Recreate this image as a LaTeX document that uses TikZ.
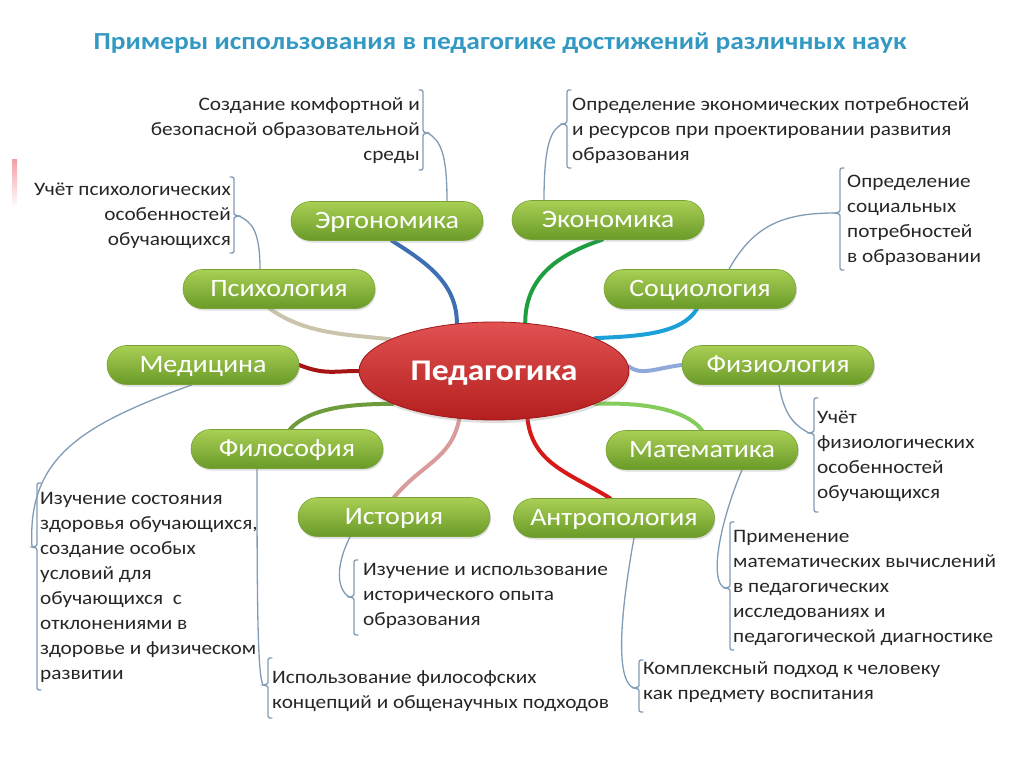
\documentclass[tikz,border=0pt]{standalone}
\usepackage{fontspec}
\setmainfont{Carlito}[FakeStretch=1.12]
\usetikzlibrary{shapes.misc,shapes.geometric,shadows,backgrounds}
\definecolor{pillTop}{HTML}{A9CF55}
\definecolor{pillBot}{HTML}{6A9A28}
\definecolor{pillEdge}{HTML}{76A236}
\definecolor{leadc}{HTML}{7F9BB5}
\definecolor{txt}{HTML}{262626}
\definecolor{titlec}{HTML}{3399C2}
\definecolor{redTop}{HTML}{E25252}
\definecolor{redBot}{HTML}{B41E1E}
\definecolor{redEdge}{HTML}{A01818}
\definecolor{cErgo}{HTML}{3E6FB2}
\definecolor{cEcon}{HTML}{1E9E40}
\definecolor{cSoc}{HTML}{1BA0D8}
\definecolor{cPsy}{HTML}{CBC4AC}
\definecolor{cMed}{HTML}{A51515}
\definecolor{cPhys}{HTML}{8FAADA}
\definecolor{cPhi}{HTML}{6E9B3C}
\definecolor{cMath}{HTML}{86CC5C}
\definecolor{cHist}{HTML}{D99C9C}
\definecolor{cAnt}{HTML}{D61A1A}
\definecolor{pinkbar}{HTML}{F4A0A8}
\tikzset{
  pill/.style={rounded rectangle, minimum width=192pt, minimum height=39pt, inner sep=0pt,
    top color=pillTop, bottom color=pillBot, draw=pillEdge, line width=0.6pt,
    text=white, font=\fontsize{25}{30}\selectfont, text height=17pt, text depth=2pt,
    drop shadow={opacity=0.25, shadow xshift=1pt, shadow yshift=-2pt}},
  desc/.style={font=\fontsize{19}{25}\selectfont, text=txt, inner sep=0pt},
  thicklink/.style={line width=4pt, line cap=round},
  leader/.style={draw=leadc, line width=1.3pt, line cap=round}
}
\newcommand\lbr[4]{\draw[leader] (#1+4,#2) .. controls (#1,#2) .. (#1,#2+5) -- (#1,#4-5) .. controls (#1,#4-1) .. (#1-5,#4) .. controls (#1,#4+1) .. (#1,#4+5) -- (#1,#3-5) .. controls (#1,#3) .. (#1+4,#3);}
\newcommand\rbr[4]{\draw[leader] (#1-4,#2) .. controls (#1,#2) .. (#1,#2+5) -- (#1,#4-5) .. controls (#1,#4-1) .. (#1+5,#4) .. controls (#1,#4+1) .. (#1,#4+5) -- (#1,#3-5) .. controls (#1,#3) .. (#1-4,#3);}
\begin{document}
\begin{tikzpicture}[x=1pt,y=-1pt]
\useasboundingbox (0,0) rectangle (1024,767);
\shade[top color=pinkbar, bottom color=white] (12,160) rectangle (17,207);

\node[text=titlec, font=\fontsize{24.5}{28}\selectfont\bfseries] (title) at (500,43) {Примеры использования в педагогике достижений различных наук};

% central node
\node[ellipse, minimum width=270pt, minimum height=98pt, inner sep=0pt, top color=redTop, bottom color=redBot, draw=redEdge, line width=0.8pt, text=white, font=\fontsize{30}{34}\selectfont\bfseries, text height=21pt, text depth=3pt, drop shadow={opacity=0.25, shadow xshift=1pt, shadow yshift=-3pt}] (ped) at (494,371) {Педагогика};

% science nodes
\node[pill] (ergo) at (387,221) {Эргономика};
\node[pill] (econ) at (608,220) {Экономика};
\node[pill] (psych) at (279,289) {Психология};
\node[pill] (socio) at (700,289) {Социология};
\node[pill] (med) at (203,365) {Медицина};
\node[pill] (physio) at (778,365) {Физиология};
\node[pill] (philo) at (287,449) {Философия};
\node[pill] (math) at (702,450) {Математика};
\node[pill] (hist) at (394,517) {История};
\node[pill, minimum width=201pt] (anthro) at (614,518) {Антропология};

% descriptions
\node[desc, anchor=east, align=right] (dErgo) at (420,131) {Создание комфортной и\\безопасной образовательной\\среды};
\node[desc, anchor=east, align=right] (dPsy) at (231,216) {Учёт психологических\\особенностей\\обучающихся};
\node[desc, anchor=west, align=left] (dEcon) at (572,131) {Определение экономических потребностей\\и ресурсов при проектировании развития\\образования};
\node[desc, anchor=west, align=left] (dSoc) at (847,220) {Определение\\социальных\\потребностей\\в образовании};
\node[desc, anchor=west, align=left] (dPhys) at (817,456) {Учёт\\физиологических\\особенностей\\обучающихся};
\node[desc, anchor=west, align=left] (dMath) at (733,588) {Применение\\математических вычислений\\в педагогических\\исследованиях и\\педагогической диагностике};
\node[desc, anchor=west, align=left] (dMed) at (40,587) {Изучение состояния\\здоровья обучающихся,\\создание особых\\условий для\\обучающихся~ с\\отклонениями в\\здоровье и физическом\\развитии};
\node[desc, anchor=west, align=left] (dHist) at (363,596) {Изучение и использование\\исторического опыта\\образования};
\node[desc, anchor=west, align=left] (dAnt) at (643,682) {Комплексный подход к человеку\\как предмету воспитания};
\node[desc, anchor=west, align=left] (dPhi) at (272,691) {Использование философских\\концепций и общенаучных подходов};

% brace tips
\coordinate (tErgo) at (428,133);
\coordinate (tPsy) at (239,216);
\coordinate (tEcon) at (562,124);
\coordinate (tSoc) at (835,213);
\coordinate (tMed) at (32,547);
\coordinate (tPhi) at (263,685);
\coordinate (tHist) at (349,597);
\coordinate (tAnt) at (634,688);
\coordinate (tMath) at (725,588);
\coordinate (tPhys) at (809,433);

% braces
\rbr{423}{90}{170}{133}
\rbr{234}{177}{253}{216}
\lbr{567}{90}{168}{124}
\lbr{840}{168}{270}{213}
\lbr{37}{483}{690}{547}
\lbr{268}{658}{718}{685}
\lbr{354}{560}{635}{597}
\lbr{639}{660}{712}{688}
\lbr{730}{522}{650}{588}
\lbr{814}{398}{512}{433}

\begin{scope}[on background layer]
% thin leaders
\draw[leader] ([xshift=60pt]ergo.north) .. controls +(0,-50) and +(12,8) .. (tErgo);
\draw[leader] ([xshift=-19pt]psych.north) .. controls +(0,-40) and +(12,6) .. (tPsy);
\draw[leader] ([xshift=-64pt]econ.north) .. controls +(0,-60) and +(-10,6) .. (tEcon);
\draw[leader] ([xshift=29pt]socio.north) .. controls +(25,-45) and +(-50,0) .. (tSoc);
\draw[leader] ([xshift=-11pt]med.south) .. controls +(-110,40) and +(-5,-90) .. (tMed);
\draw[leader] ([xshift=-30pt]philo.south) .. controls +(0,150) and +(-5,-10) .. (tPhi);
\draw[leader] ([xshift=-44pt]hist.south) .. controls +(-15,30) and +(-12,-8) .. (tHist);
\draw[leader] ([xshift=20pt]anthro.south) .. controls +(-18,100) and +(-15,-5) .. (tAnt);
\draw[leader] ([xshift=40pt]math.south) .. controls +(-25,60) and +(-15,-5) .. (tMath);
\draw[leader] ([xshift=1pt]physio.south) .. controls +(5,30) and +(-15,-8) .. (tPhys);
% thick links
\draw[thicklink, cErgo] ([xshift=5pt]ergo.south) .. controls +(35,22) and +(0,-40) .. (ped.128);
\draw[thicklink, cEcon] ([xshift=-6pt]econ.south) .. controls +(-45,15) and +(0,-45) .. (ped.57);
\draw[thicklink, cSoc] ([xshift=-3pt]socio.south) .. controls +(-15,25) and +(45,-2) .. (ped.18);
\draw[thicklink, cPsy] ([xshift=-9pt]psych.south) .. controls +(35,25) and +(-45,-5) .. (ped.163);
\draw[thicklink, cMed] (med.east) .. controls +(25,10) and +(-25,0) .. (ped.180);
\draw[thicklink, cPhys] (ped.2) .. controls +(12,10) and +(-25,3) .. (physio.west);
\draw[thicklink, cPhi] ([xshift=3pt]philo.north) .. controls +(20,-22) and +(-40,0) .. (ped.-162);
\draw[thicklink, cMath] (ped.-18) .. controls +(50,-2) and +(-15,-20) .. (math.north);
\draw[thicklink, cHist] (ped.-126) .. controls +(-8,40) and +(30,-35) .. (hist.north);
\draw[thicklink, cAnt] (ped.-55) .. controls +(5,45) and +(-40,-25) .. ([xshift=-4pt]anthro.north);
\end{scope}
\end{tikzpicture}
\end{document}
